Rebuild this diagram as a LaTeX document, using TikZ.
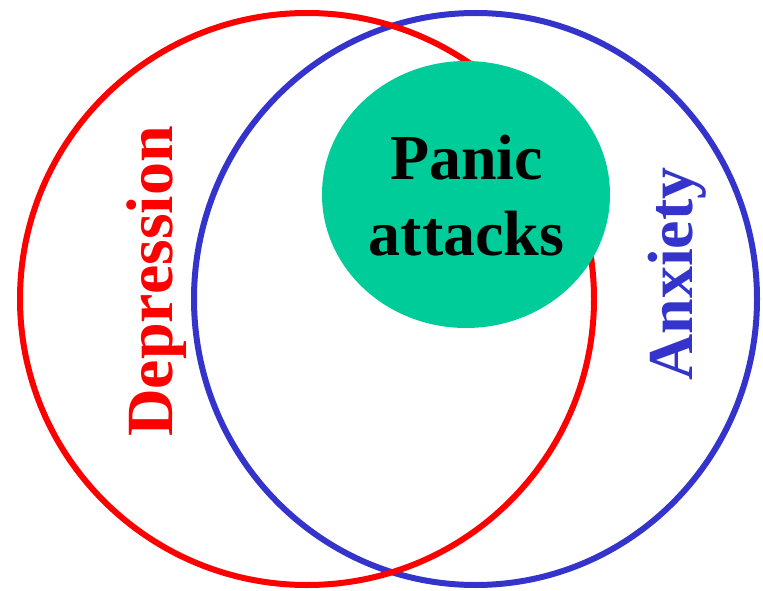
\documentclass[tikz,border=0pt]{standalone}
\usepackage{fontspec}
\setmainfont{Liberation Serif}
\definecolor{depred}{HTML}{FF0000}
\definecolor{anxblue}{HTML}{3434CC}
\definecolor{panicgreen}{HTML}{00CC99}
\begin{document}
\begin{tikzpicture}[x=1pt,y=-1pt,
  ring/.style={line width=6pt},
  lbl/.style={font=\fontsize{64}{75}\selectfont\bfseries, inner sep=0pt}]
  \useasboundingbox (0,0) rectangle (763,591);
  % overlapping sets
  \draw[ring, anxblue] (475.5,299) ellipse [x radius=281.5, y radius=286];
  \draw[ring, depred] (307,299) ellipse [x radius=287, y radius=286];
  \fill[panicgreen] (466,194.5) ellipse [x radius=144, y radius=133.5];
  % labels
  \node[lbl, anchor=base] (panic) at (466.5,179) {Panic};
  \node[lbl, anchor=base] (attacks) at (466.5,255) {attacks};
  \node[lbl, depred, rotate=90, anchor=base, font=\fontsize{66}{75}\selectfont\bfseries] (depression) at (172,281.5) {Depression};
  \node[lbl, anxblue, rotate=90, anchor=base] (anxiety) at (692,274) {Anxiety};
\end{tikzpicture}
\end{document}
